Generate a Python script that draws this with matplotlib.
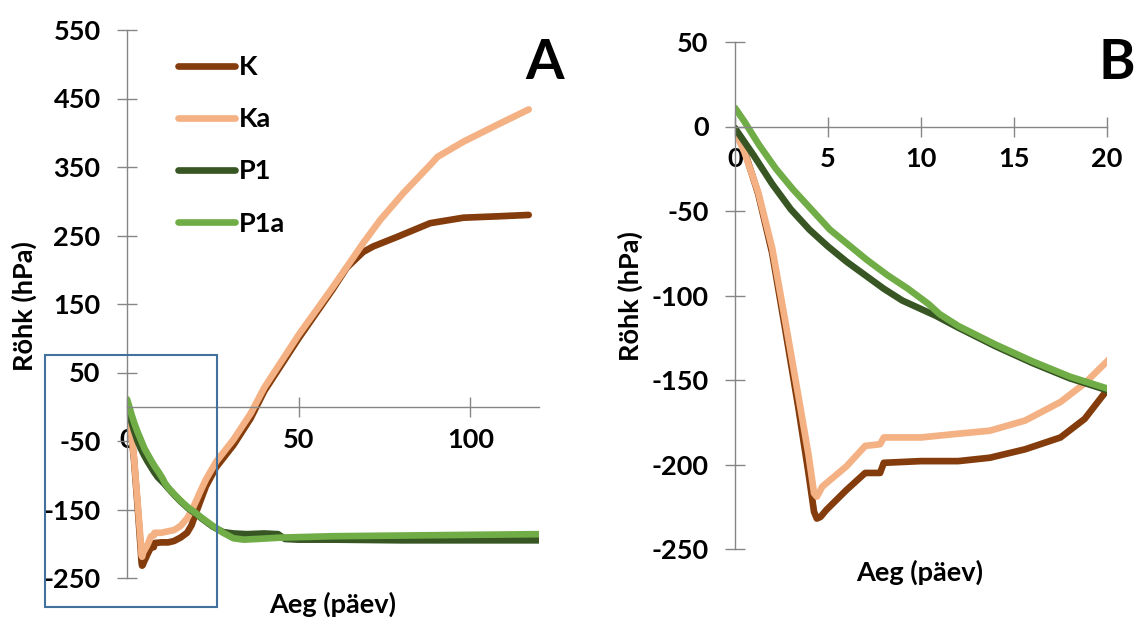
import matplotlib
matplotlib.use("Agg")
import matplotlib.pyplot as plt
from matplotlib.patches import Rectangle

# readings taken off the figure (days vs pressure, hPa)
k_day = [0, 0.5, 1.25, 2.0, 2.7, 3.4, 3.95, 4.25, 4.4, 4.6, 4.9, 6.0, 7.0, 7.8, 8.0,
         10, 12, 13.7, 15.6, 17.5, 18.8, 20, 21.5, 23, 26, 31, 36, 40, 50, 60, 64,
         68.8, 71.7, 78.7, 88.3, 98, 108, 117]
k_val = [-1, -14, -40, -75, -120, -166, -205, -228, -232, -231, -227, -215, -205, -205, -199,
         -198, -198, -196, -191, -184, -173, -156, -136, -116, -88, -56, -17, 23, 100, 172, 203,
         226, 234, 248, 268, 276, 278, 280]

ka_day = [0, 0.5, 1.25, 2.0, 2.7, 3.4, 3.95, 4.25, 4.4, 4.7, 6.0, 7.0, 7.8, 8.0,
          10, 11.8, 13.7, 15.6, 17.5, 18.8, 20, 21.5, 23, 26, 31, 36, 40, 50, 60, 64,
          68.8, 73.8, 80.5, 88.3, 90.5, 98, 108, 117]
ka_val = [-3, -15, -39, -72, -115, -159, -194, -217, -219, -213, -201, -189, -188, -184,
          -184, -182, -180, -174, -163, -152, -139, -122, -106, -80, -48, -10, 28, 105, 175, 204,
          239, 273, 312, 353, 365, 387, 412, 434]

p1_day = [0, 1, 2, 3, 4, 5, 6, 7, 8, 9, 10, 10.8, 12, 14, 16, 18, 20, 22, 25, 28, 31,
          35, 40, 44, 46, 50, 60, 80, 100, 120]
p1_val = [-1, -17, -34, -49, -61, -71, -80, -88, -96, -103, -108, -112, -119, -130, -140,
          -149, -156, -164, -175, -183, -185, -186, -185, -186, -193, -194, -194, -195, -195, -195]

p1a_day = [0, 0.5, 1.3, 2.2, 3.1, 4.1, 5.1, 6.1, 7.1, 8.2, 9.3, 10.4, 11, 12, 14, 16, 18,
           20, 22, 25, 28, 31, 34, 38, 45, 60, 80, 100, 120]
p1a_val = [11, 3, -11, -25, -37, -49, -61, -70, -79, -88, -96, -105, -111, -118, -129, -139,
           -148, -155, -163, -174, -184, -192, -194, -193, -191, -189, -188, -187, -186]

series = [("K", k_day, k_val, "#843C0C"),
          ("Ka", ka_day, ka_val, "#F4B183"),
          ("P1", p1_day, p1_val, "#375623"),
          ("P1a", p1a_day, p1a_val, "#70AD47")]

a_xticks = [0, 50, 100]
a_yticks = [-250, -150, -50, 50, 150, 250, 350, 450, 550]
b_xticks = [0, 5, 10, 15, 20]
b_yticks = [-250, -200, -150, -100, -50, 0, 50]

plt.rcParams["font.family"] = ["Lato", "DejaVu Sans"]
plt.rcParams["font.weight"] = "bold"
plt.rcParams["font.size"] = 19.5
plt.rcParams["axes.unicode_minus"] = False

W, H = 1137, 617
GREY = "#868686"
FS = 19.5

fig = plt.figure(figsize=(W / 100, H / 100), dpi=100)


def px_box(left, top, right, bottom):
    # pixel box of the reference -> figure fraction
    return [left / W, 1 - bottom / H, (right - left) / W, (bottom - top) / H]


def style(ax, xlim, ylim, xticks, yticks):
    ax.set_xlim(*xlim)
    ax.set_ylim(*ylim)
    ax.set_xticks(xticks)
    ax.set_yticks(yticks)
    for s in ("top", "right"):
        ax.spines[s].set_visible(False)
    ax.spines["bottom"].set_position(("data", 0))
    for s in ("left", "bottom"):
        ax.spines[s].set_color(GREY)
        ax.spines[s].set_linewidth(1.0)
    ax.tick_params(axis="both", direction="inout", length=14, width=1.0,
                   color=GREY, labelsize=FS)
    ax.tick_params(axis="x", pad=8)
    ax.tick_params(axis="y", pad=12)
    ax.patch.set_visible(False)


axA = fig.add_axes(px_box(127, 30, 539, 578))
axB = fig.add_axes(px_box(735, 42, 1107, 549))

for ax in (axA, axB):
    for name, d, v, c in series:
        ax.plot(d, v, color=c, lw=4.8, label=name,
                solid_capstyle="round", solid_joinstyle="round")

style(axA, (0, 120), (-250, 550), a_xticks, a_yticks)
style(axB, (0, 20), (-250, 50), b_xticks, b_yticks)

axA.legend(loc="upper left", bbox_to_anchor=(178 / W, 1 - 55 / H),
           bbox_transform=fig.transFigure, frameon=False, borderpad=0,
           borderaxespad=0, handlelength=2.1, handletextpad=0.15,
           labelspacing=1.04, fontsize=FS)

# axis titles
fig.text(24 / W, 1 - 306 / H, "Röhk (hPa)", rotation=90, ha="center", va="center", fontsize=FS)
fig.text(333 / W, 1 - 604 / H, "Aeg (päev)", ha="center", va="center", fontsize=FS)
fig.text(630 / W, 1 - 296 / H, "Röhk (hPa)", rotation=90, ha="center", va="center", fontsize=FS)
fig.text(920 / W, 1 - 572 / H, "Aeg (päev)", ha="center", va="center", fontsize=FS)

# panel letters
fig.text(545 / W, 1 - 63 / H, "A", ha="center", va="center", fontsize=40)
fig.text(1135 / W, 1 - 63 / H, "B", ha="right", va="center", fontsize=40)

# box marking the zoomed part shown in B
fig.add_artist(Rectangle((45 / W, 1 - 607 / H), 172 / W, 252 / H,
                         transform=fig.transFigure, fill=False,
                         edgecolor="#41719C", linewidth=1.5))

fig.savefig("out.png", dpi=100)
